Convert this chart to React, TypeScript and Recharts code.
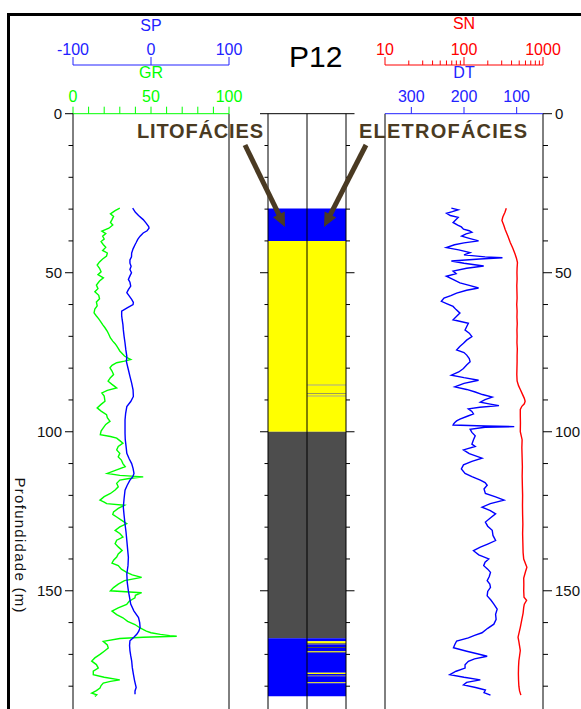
import { LineChart, Line, XAxis, YAxis, BarChart, Bar, Cell, ReferenceLine } from "recharts"

// perfis do poço P12: [profundidade (m), leitura]
const gr: [number, number][] = [
  [29.7, 30], [30.5, 27], [31.5, 24], [32.3, 26], [33.3, 25], [34.2, 24], [35.0, 25.5], [36.0, 23], [36.9, 18.5], [37.7, 21],
  [38.5, 19], [39.4, 20], [40.2, 18], [41.2, 19.5], [42.0, 21], [43.0, 19], [43.8, 22], [44.8, 21.5], [45.7, 19], [46.6, 17],
  [47.6, 15.5], [48.6, 17], [49.7, 18], [50.6, 16], [51.6, 19.5], [52.6, 17], [53.9, 15], [55.0, 16], [56.0, 14], [57.1, 16.5],
  [58.2, 17], [59.2, 15], [60.4, 15.5], [61.4, 14], [62.6, 13.5], [63.6, 15], [64.5, 16.5], [65.2, 17.5], [66.3, 19], [67.3, 20.5],
  [68.4, 22], [69.4, 23], [70.5, 24], [71.5, 25.5], [72.3, 27], [73.0, 28], [73.8, 29], [74.6, 30], [75.4, 31.5], [76.2, 33],
  [76.8, 35], [77.3, 37], [77.8, 33], [78.3, 28], [79.1, 25], [79.9, 23.7], [80.9, 25], [82.0, 26], [83.0, 24], [84.1, 22.5],
  [85.1, 25], [86.2, 28], [87.0, 22], [87.8, 18.5], [88.8, 20], [90.4, 20.5], [91.4, 18], [92.5, 15.5], [93.5, 18], [94.6, 21.5],
  [95.6, 22], [96.7, 23.7], [97.7, 21], [98.8, 19.4], [99.8, 18], [100.9, 17.5], [101.5, 24], [102.0, 28], [102.8, 30], [103.6, 32],
  [104.6, 29], [105.7, 28], [106.8, 30], [107.9, 29], [108.9, 31], [110.0, 32], [111.0, 33.5], [112.0, 28], [113.1, 22], [113.7, 30],
  [114.2, 45], [114.7, 36], [115.2, 30], [116.2, 28], [117.3, 29], [118.3, 27], [119.4, 24], [120.4, 20], [121.5, 17.3], [122.1, 20],
  [122.6, 21.6], [123.1, 33], [124.1, 29], [125.2, 26], [126.0, 25.5], [126.8, 28], [127.8, 31], [128.9, 34.4], [129.9, 30], [131.0, 27],
  [132.0, 30], [133.1, 32], [134.1, 28], [135.2, 27], [136.2, 29], [137.3, 31.5], [138.4, 29], [139.4, 28], [140.4, 26], [141.3, 25],
  [142.1, 29], [143.2, 31], [144.2, 34.4], [145.0, 38], [145.8, 44], [146.8, 33], [147.9, 29], [149.0, 26], [150.0, 24], [150.6, 44],
  [151.4, 40], [152.2, 39.7], [153.3, 36], [154.3, 34.4], [155.4, 29], [156.4, 25], [157.5, 28], [158.5, 32], [159.6, 35], [160.6, 39.7],
  [161.7, 43], [162.7, 47], [163.2, 50], [163.7, 56], [164.1, 62], [164.3, 66.5], [164.6, 45], [165.0, 30], [165.9, 19.4], [167.0, 22],
  [168.0, 22.6], [169.0, 20], [170.0, 17.3], [171.1, 14], [172.1, 12], [173.2, 15], [174.3, 16.2], [175.3, 13], [176.4, 13], [177.2, 20],
  [178.0, 30], [178.5, 24], [179.0, 19.4], [179.8, 18], [180.6, 17.3], [181.4, 15], [182.2, 12], [182.7, 15.2], [183.2, 14],
]

const sp: [number, number][] = [
  [29.7, -23.5], [31.0, -20], [32.0, -16], [33.3, -10], [34.5, -6], [35.5, -3], [36.0, -2.5], [36.8, -5], [37.5, -10], [38.5, -14],
  [39.5, -17], [40.5, -19], [41.2, -20.5], [42.5, -23], [43.8, -24.8], [45.0, -25], [46.0, -27], [47.0, -27], [48.0, -25.5], [49.0, -27],
  [50.0, -25], [51.0, -27], [52.1, -29], [53.0, -27], [54.2, -26], [55.3, -29], [56.3, -31], [57.3, -28], [58.4, -24.8], [59.3, -22.6],
  [60.0, -23], [61.0, -30], [62.1, -37.6], [63.5, -37.6], [64.7, -37], [66.3, -36], [67.9, -35.5], [70.0, -34.5], [72.1, -33.3], [74.2, -32.3],
  [76.3, -31], [78.0, -31.5], [80.5, -29], [82.6, -27], [84.7, -24.8], [86.8, -23], [88.9, -22.6], [90.5, -26], [92.1, -31], [94.2, -32.5],
  [96.3, -33.3], [98.4, -33.3], [100.5, -33.3], [102.5, -33], [104.5, -32], [106.8, -31], [108.5, -28], [110.0, -24.8], [111.5, -23], [113.1, -21.8],
  [114.2, -23.5], [115.2, -27], [116.8, -30.5], [118.4, -33.3], [121.0, -34.5], [123.7, -35.5], [126.3, -34.5], [129.0, -33.3], [131.6, -32], [134.2, -31],
  [136.9, -30], [139.5, -29], [142.1, -29.5], [144.7, -31], [147.3, -30.5], [150.0, -29], [152.1, -27.5], [154.2, -26], [156.3, -22], [158.4, -16],
  [160.0, -14.5], [161.5, -14], [162.6, -15.5], [163.6, -18], [164.6, -22], [165.7, -27], [167.2, -27.5], [168.8, -27], [170.4, -26], [172.0, -24.8],
  [174.1, -24], [176.2, -22.6], [178.3, -21], [180.4, -19], [181.5, -20.5], [182.5, -20.5],
]

const dt: [number, number][] = [
  [29.7, 224], [30.2, 211], [30.8, 222], [31.3, 233], [32.0, 226], [32.6, 211], [33.4, 216], [34.2, 220.7], [35.0, 212], [35.6, 205],
  [36.3, 201], [36.8, 190], [37.3, 185], [37.8, 196], [38.5, 204.5], [39.2, 190], [40.0, 172.3], [40.6, 200], [41.2, 218], [42.1, 233.5],
  [42.8, 210], [43.7, 188.4], [44.4, 200], [45.0, 160], [45.3, 127], [45.7, 170], [46.3, 224], [47.0, 200], [47.9, 162.6], [48.6, 195],
  [49.5, 220.7], [50.3, 215], [51.1, 233.5], [52.0, 222], [53.2, 207.7], [54.0, 190], [54.8, 172.3], [55.5, 195], [56.4, 214], [57.2, 225],
  [58.0, 238], [59.0, 243], [59.8, 232], [60.6, 220.7], [61.6, 215], [62.7, 207.7], [63.7, 214], [64.8, 220.7], [65.9, 191.7], [67.0, 195],
  [68.0, 198], [69.0, 190], [70.1, 185], [71.2, 195], [72.2, 201], [73.2, 208], [74.3, 214], [75.1, 200], [75.9, 194.8], [77.0, 190],
  [78.0, 188.4], [79.0, 195], [80.1, 201], [81.2, 210], [82.2, 224], [83.0, 200], [83.8, 172.3], [84.8, 200], [85.9, 217.4], [86.7, 195],
  [87.5, 178.7], [88.3, 165], [89.1, 146.4], [89.9, 160], [90.7, 169], [91.3, 150], [91.8, 133.6], [92.3, 170], [92.8, 191.7], [93.6, 185],
  [94.4, 182], [95.2, 195], [96.0, 207.7], [96.6, 214], [97.1, 217.4], [97.6, 220], [97.9, 220.7], [98.2, 160], [98.4, 104.6], [98.6, 160],
  [99.2, 188.4], [100.2, 185], [101.3, 178.7], [102.5, 182], [103.9, 185], [104.6, 178.7], [105.7, 201], [106.9, 190], [108.3, 165.8], [109.3, 185],
  [110.4, 201], [111.7, 205], [113.1, 198], [114.1, 185], [115.2, 169], [116.0, 160], [116.8, 156], [118.0, 162], [119.4, 159.4], [120.5, 140],
  [121.5, 124], [122.6, 150], [123.7, 165.8], [124.8, 150], [125.8, 140], [127.1, 150], [128.4, 159.4], [129.7, 155], [131.0, 146.4], [132.6, 145],
  [134.2, 140], [135.3, 155], [136.3, 169], [137.4, 182], [138.7, 172], [140.0, 153], [141.0, 160], [142.1, 162.6], [143.2, 155], [144.2, 149.7],
  [145.5, 152], [146.8, 156], [147.9, 151], [148.9, 149.7], [150.2, 155], [151.6, 156], [152.9, 149], [154.2, 143.3], [155.8, 137], [157.4, 140],
  [159.0, 139], [160.5, 143.3], [161.8, 155], [163.2, 165.8], [164.0, 180], [164.8, 191.7], [165.8, 214], [166.9, 217.4], [167.9, 220], [169.0, 194.8],
  [169.8, 175], [170.6, 156], [171.4, 180], [172.2, 191.7], [173.3, 198], [174.3, 198], [175.3, 215], [176.4, 227], [177.2, 200], [178.0, 169],
  [178.8, 195], [179.6, 201], [180.4, 178], [181.2, 159.4], [182.0, 162], [182.8, 149.7],
]

const sn: [number, number][] = [
  [29.7, 343], [31.0, 330], [32.5, 310], [33.6, 302], [35.0, 318], [36.5, 333], [38.5, 360], [40.5, 385], [42.3, 415], [44.2, 444],
  [45.5, 462], [46.8, 475], [48.5, 470], [50, 468], [52, 470], [54, 466], [56, 468], [58, 470], [60, 465], [62, 470],
  [64, 468], [66, 472], [68, 468], [70, 470], [72, 468], [74, 473], [76, 470], [78, 470], [80, 468], [82, 466],
  [84, 470], [85.5, 490], [86.7, 516], [88, 545], [89.5, 580], [90.4, 594], [91.2, 580], [92, 540], [93, 516], [95, 516],
  [97.2, 518], [100, 516], [102.5, 544], [105, 540], [108, 544], [111, 548], [114, 545], [117, 548], [120, 552], [123, 550],
  [126, 552], [129, 556], [132, 552], [135, 556], [138, 560], [140, 570], [142.6, 625], [144, 600], [146, 570], [148, 572],
  [150, 570], [152, 575], [153, 620], [154.2, 580], [155.2, 570], [157, 560], [159, 540], [161.5, 516], [163, 500], [164.6, 483],
  [166, 495], [168.8, 516], [170.5, 505], [172, 495], [174, 490], [176, 488], [178, 490], [180, 495], [181.5, 505], [182.8, 525],
]

const depthTicks = [0, 10, 20, 30, 40, 50, 60, 70, 80, 90, 100, 110, 120, 130, 140, 150, 160, 170, 180]
const grTicks = [0, 10, 20, 30, 40, 50, 60, 70, 80, 90, 100]
const spTicks = [-100, 0, 100]
const snTicks = [10, 20, 30, 40, 50, 60, 70, 80, 90, 100, 200, 300, 400, 500, 600, 700, 800, 900, 1000]
const dtTicks = [300, 200, 100]

// [topo, base, fácies]
const litofacies: [number, number, string][] = [
  [29.8, 40, "azul"], [40, 100, "amarelo"], [100, 164.9, "cinza"], [164.9, 183.2, "azul"],
]
const eletrofacies: [number, number, string][] = [
  [29.8, 40, "azul"], [40, 85.2, "amarelo"], [85.2, 85.45, "cinza"], [85.45, 87.8, "amarelo"], [87.8, 88.05, "cinza"],
  [88.05, 88.7, "amarelo"], [88.7, 88.95, "cinza"], [88.95, 100, "amarelo"], [100, 164.9, "cinza"], [164.9, 165.9, "azul"],
  [165.9, 166.5, "amarelo"], [166.5, 166.9, "cinza"], [166.9, 167.7, "azul"], [167.7, 168.0, "cinza"], [168.0, 168.9, "azul"],
  [168.9, 169.2, "amarelo"], [169.2, 169.5, "cinza"], [169.5, 175.8, "azul"], [175.8, 176.2, "amarelo"], [176.2, 176.6, "azul"],
  [176.6, 176.9, "cinza"], [176.9, 178.7, "azul"], [178.7, 178.9, "amarelo"], [178.9, 179.1, "cinza"], [179.1, 183.2, "azul"],
]

const BLUE = "#0000ff"
const BLUE_TXT = "#2222ff"
const GREEN = "#00ff00"
const RED = "#ff0000"
const BROWN = "#4a3a22"
const FONT = "'Liberation Sans', Arial, Helvetica, sans-serif"
const LABEL_SIZE = 16
const DEPTH_SIZE = 15

const faciesColor: Record<string, string> = { azul: "#0000ff", amarelo: "#ffff00", cinza: "#4d4d4d" }

const toPoints = (rows: [number, number][]) => rows.map(([d, v]) => ({ d, v }))

function toSegments(layers: [number, number, string][]) {
  const segs: { size: number; fill: string }[] = []
  let base = 0
  layers.forEach(([top, bottom, kind]) => {
    if (top > base) segs.push({ size: top - base, fill: "none" })
    segs.push({ size: bottom - top, fill: faciesColor[kind] })
    base = bottom
  })
  return segs
}

const columns = [
  { name: "lito", segs: toSegments(litofacies) },
  { name: "eletro", segs: toSegments(eletrofacies) },
]
const nSeg = Math.max(...columns.map((c) => c.segs.length))
const faciesRows = columns.map((c) => {
  const row: any = { col: c.name }
  for (let i = 0; i < nSeg; i++) row["s" + i] = c.segs[i] ? c.segs[i].size : 0
  return row
})

// ticks de profundidade (linha + rótulo opcional)
const depthTick = (side: "left" | "right", withLabel: boolean, majorLen: number, minorLen: number) => (props: any) => {
  const { x, y, payload } = props
  const major = payload.value % 50 === 0
  const dir = side === "left" ? -1 : 1
  const len = major ? majorLen : minorLen
  return (
    <g>
      <line x1={x} y1={y} x2={x + dir * len} y2={y} stroke="#000" />
      {withLabel && major && (
        <text x={x + dir * (majorLen + 3)} y={y} dy="0.35em" textAnchor={side === "left" ? "end" : "start"} fontSize={DEPTH_SIZE} fill="#111">
          {payload.value}
        </text>
      )}
    </g>
  )
}

// ticks dos eixos superiores dos perfis
const topTick =
  (color: string, labelled: (v: number) => boolean, isMajor: (v: number) => boolean, majorLen: number, minorLen: number, gap: number) =>
  (props: any) => {
    const { x, y, payload } = props
    const v = payload.value
    return (
      <g>
        <line x1={x} y1={y} x2={x} y2={y - (isMajor(v) ? majorLen : minorLen)} stroke={color} />
        {labelled(v) && (
          <text x={x} y={y - gap} textAnchor="middle" fontSize={LABEL_SIZE} fill={color}>
            {v}
          </text>
        )}
      </g>
    )
  }

function arrow(x1: number, y1: number, x2: number, y2: number, head = 14, half = 6.5) {
  const dx = x2 - x1
  const dy = y2 - y1
  const L = Math.hypot(dx, dy)
  const ux = dx / L
  const uy = dy / L
  const bx = x2 - ux * head
  const by = y2 - uy * head
  return (
    <g>
      <line x1={x1} y1={y1} x2={bx + ux} y2={by + uy} stroke={BROWN} strokeWidth={5} />
      <polygon points={`${x2},${y2} ${bx - uy * half},${by + ux * half} ${bx + uy * half},${by - ux * half}`} fill={BROWN} />
    </g>
  )
}

const H = 720
const PLOT_TOP = 113.7
const DOMAIN: [number, number] = [0, 190]

export default function App() {
  return (
    <div style={{ position: "absolute", left: 0, top: 0, width: 581, height: 709, overflow: "hidden", background: "#fff", fontFamily: FONT }}>
      <div style={{ position: "absolute", left: 7, top: 13, width: 620, height: 740, borderTop: "3px solid #000", borderLeft: "3px solid #000" }} />

      {/* SP / GR */}
      <div style={{ position: "absolute", left: 0, top: 0 }}>
        <LineChart layout="vertical" width={256} height={H} margin={{ top: 15, right: 27, bottom: 2, left: 0 }}>
          <XAxis
            xAxisId="gr"
            orientation="top"
            type="number"
            domain={[0, 100]}
            allowDataOverflow
            ticks={grTicks}
            interval={0}
            height={PLOT_TOP - 65}
            tickSize={0}
            tickMargin={0}
            tickLine={false}
            axisLine={{ stroke: GREEN }}
            tick={topTick(GREEN, (v) => v % 50 === 0, () => true, 7, 7, 12)}
            label={{ value: "GR", position: "insideTop", offset: 1.5, fill: GREEN, fontSize: LABEL_SIZE }}
          />
          <XAxis
            xAxisId="sp"
            orientation="top"
            type="number"
            domain={[-100, 100]}
            allowDataOverflow
            ticks={spTicks}
            interval={0}
            height={50}
            tickSize={0}
            tickMargin={0}
            tickLine={false}
            axisLine={{ stroke: BLUE_TXT }}
            tick={topTick(BLUE_TXT, () => true, () => true, 8, 8, 10)}
            label={{ value: "SP", position: "insideTop", offset: 4.5, fill: BLUE_TXT, fontSize: LABEL_SIZE }}
          />
          <YAxis
            type="number"
            dataKey="d"
            domain={DOMAIN}
            allowDataOverflow
            ticks={depthTicks}
            interval={0}
            width={73}
            tickSize={0}
            tickMargin={0}
            tickLine={false}
            axisLine={{ stroke: "#000" }}
            tick={depthTick("left", true, 8, 4.5)}
          />
          <ReferenceLine x={100} xAxisId="gr" stroke="#000" />
          <Line data={toPoints(gr)} xAxisId="gr" dataKey="v" stroke={GREEN} strokeWidth={1.4} dot={false} isAnimationActive={false} />
          <Line data={toPoints(sp)} xAxisId="sp" dataKey="v" stroke={BLUE} strokeWidth={1.4} dot={false} isAnimationActive={false} />
        </LineChart>
      </div>

      {/* fácies */}
      <div style={{ position: "absolute", left: 250, top: 0 }}>
        <BarChart data={faciesRows} width={108} height={H} margin={{ top: PLOT_TOP, right: 0, bottom: 2, left: 0 }} barCategoryGap={0} barGap={0}>
          <XAxis dataKey="col" type="category" hide height={0} />
          <YAxis yAxisId="l" type="number" domain={DOMAIN} reversed allowDataOverflow ticks={depthTicks} interval={0} width={18}
            tickSize={0} tickMargin={0} tickLine={false} axisLine={{ stroke: "#000" }} tick={depthTick("left", false, 8, 3.5)} />
          <YAxis yAxisId="r" orientation="right" type="number" domain={DOMAIN} reversed allowDataOverflow ticks={depthTicks} interval={0} width={12}
            tickSize={0} tickMargin={0} tickLine={false} axisLine={{ stroke: "#000" }} tick={depthTick("right", false, 8.5, 4)} />
          {Array.from({ length: nSeg }, (_, i) => (
            <Bar key={i} dataKey={"s" + i} stackId="f" yAxisId="l" isAnimationActive={false}>
              {columns.map((c, j) => (
                <Cell key={j} fill={c.segs[i] ? c.segs[i].fill : "none"} />
              ))}
            </Bar>
          ))}
          <ReferenceLine y={0} yAxisId="l" stroke="#000" />
          <ReferenceLine x="eletro" position="start" yAxisId="l" stroke="#000" />
        </BarChart>
      </div>

      {/* DT / SN */}
      <div style={{ position: "absolute", left: 375, top: 0 }}>
        <LineChart layout="vertical" width={206} height={H} margin={{ top: 15, right: 0, bottom: 2, left: 10 }}>
          <XAxis
            xAxisId="dt"
            orientation="top"
            type="number"
            domain={[50, 350]}
            reversed
            allowDataOverflow
            ticks={dtTicks}
            interval={0}
            height={PLOT_TOP - 65}
            tickSize={0}
            tickMargin={0}
            tickLine={false}
            axisLine={{ stroke: BLUE_TXT }}
            tick={topTick(BLUE_TXT, () => true, () => true, 6.7, 6.7, 12)}
            label={{ value: "DT", position: "insideTop", offset: 1.5, fill: BLUE_TXT, fontSize: LABEL_SIZE }}
          />
          <XAxis
            xAxisId="sn"
            orientation="top"
            type="number"
            scale="log"
            domain={[10, 1000]}
            allowDataOverflow
            ticks={snTicks}
            interval={0}
            height={50}
            tickSize={0}
            tickMargin={0}
            tickLine={false}
            axisLine={{ stroke: RED }}
            tick={topTick(RED, (v) => v === 10 || v === 100 || v === 1000, (v) => v === 10 || v === 100 || v === 1000, 8, 4.5, 10)}
            label={{ value: "SN", position: "insideTop", offset: 3, fill: RED, fontSize: LABEL_SIZE }}
          />
          <YAxis
            type="number"
            dataKey="d"
            orientation="right"
            domain={DOMAIN}
            allowDataOverflow
            ticks={depthTicks}
            interval={0}
            width={38}
            tickSize={0}
            tickMargin={0}
            tickLine={false}
            axisLine={{ stroke: "#000" }}
            tick={depthTick("right", true, 9, 5)}
          />
          <ReferenceLine x={350} xAxisId="dt" stroke="#000" />
          <Line data={toPoints(dt)} xAxisId="dt" dataKey="v" stroke={BLUE} strokeWidth={1.4} dot={false} isAnimationActive={false} />
          <Line data={toPoints(sn)} xAxisId="sn" dataKey="v" stroke={RED} strokeWidth={1.4} dot={false} isAnimationActive={false} />
        </LineChart>
      </div>

      <svg width={581} height={709} style={{ position: "absolute", left: 0, top: 0, pointerEvents: "none" }}>
        <text x={289} y={66.5} fontSize={30} fill="#000">P12</text>
        <text x={137} y={138.3} fontSize={20} fontWeight="bold" fill={BROWN} textLength={126} lengthAdjust="spacing">LITOFÁCIES</text>
        <text x={359} y={138.3} fontSize={20} fontWeight="bold" fill={BROWN} textLength={168} lengthAdjust="spacing">ELETROFÁCIES</text>
        {arrow(245, 145, 285, 227)}
        {arrow(366, 145, 324, 227)}
        <text x={14.5} y={545} transform="rotate(90 14.5 545)" textAnchor="middle" fontSize={15} fill="#111" textLength={135} lengthAdjust="spacing">
          Profundidade (m)
        </text>
      </svg>
    </div>
  )
}
